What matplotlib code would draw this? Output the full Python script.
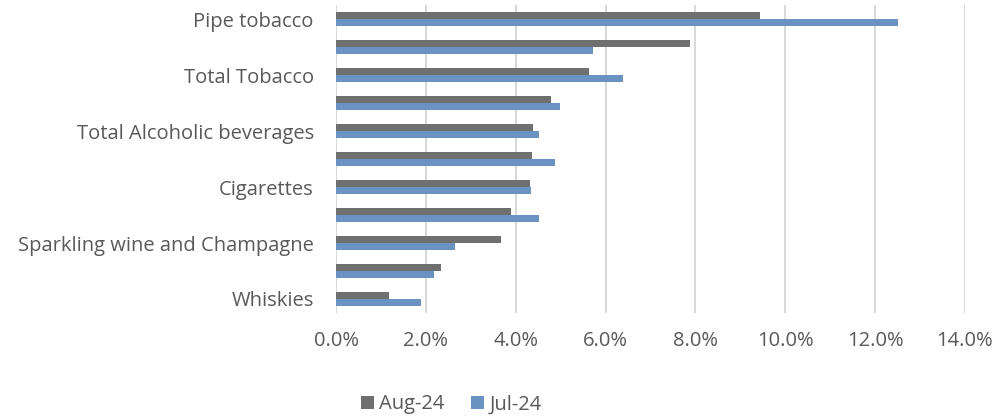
import numpy as np
import matplotlib
matplotlib.use("Agg")
from matplotlib import pyplot as plt
from matplotlib.ticker import FuncFormatter

# rows from bottom to top; only every other label is printed in the source chart
categories = ["Whiskies", "", "Sparkling wine and Champagne", "", "Cigarettes", "",
              "Total Alcoholic beverages", "", "Total Tobacco", "", "Pipe tobacco"]
aug24 = [1.17, 2.33, 3.68, 3.89, 4.31, 4.36, 4.39, 4.79, 5.63, 7.87, 9.44]
jul24 = [1.90, 2.19, 2.66, 4.53, 4.35, 4.87, 4.52, 4.99, 6.38, 5.72, 12.52]
x_ticks = [0, 2, 4, 6, 8, 10, 12, 14]

plt.rcParams['font.family'] = ['Open Sans', 'DejaVu Sans']

fig = plt.figure(figsize=(10.03, 4.19), dpi=100)
ax = fig.add_axes([0.335, 0.253, 0.627, 0.735])

y = np.arange(len(categories))
h = 0.25
ax.barh(y + h / 2, aug24, height=h, color='#6f6f6f', label='Aug-24', zorder=3)
ax.barh(y - h / 2, jul24, height=h, color='#6a93c1', label='Jul-24', zorder=3)

ax.set_xlim(0, 14)
ax.set_ylim(-0.5, len(categories) - 0.5)
ax.set_xticks(x_ticks)
ax.xaxis.set_major_formatter(FuncFormatter(lambda v, p: f"{v:.1f}%"))
ax.set_yticks(y)
ax.set_yticklabels(categories)
ax.grid(axis='x', color='#d9d9d9', linewidth=1.5, zorder=0)
for s in ax.spines.values():
    s.set_visible(False)
ax.tick_params(axis='both', length=0, labelsize=14.5, colors='#595959')
ax.tick_params(axis='x', pad=13)
ax.tick_params(axis='y', pad=16)

fig.legend(loc='center', bbox_to_anchor=(0.45, 0.035), ncol=2, frameon=False,
           fontsize=14.5, labelcolor='#595959', handlelength=0.65, handleheight=0.65,
           handletextpad=0.25, columnspacing=1.3)

fig.savefig('out.png', dpi=100)
